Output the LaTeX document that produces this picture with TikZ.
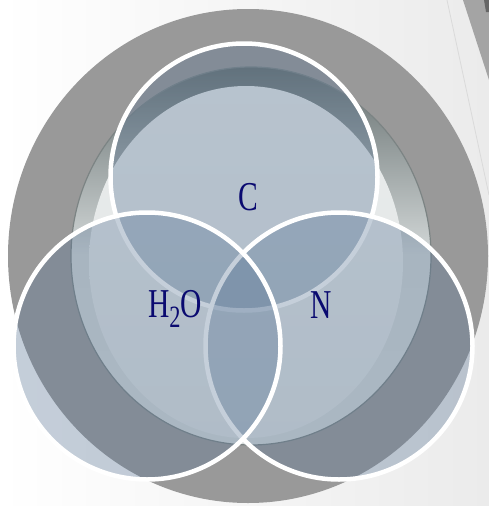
\documentclass[tikz,border=0pt]{standalone}
\usepackage{fontspec}
\setmainfont{Liberation Serif}
\definecolor{bgR}{HTML}{EBEBEB}
\definecolor{ring}{HTML}{999999}
\definecolor{cornergray}{HTML}{A4A4A4}
\definecolor{decoline}{HTML}{DADADA}
\definecolor{rimtop}{HTML}{667070}
\definecolor{rimmid}{HTML}{D3D8D8}
\definecolor{rimbot}{HTML}{D6DBDB}
\definecolor{rimedge}{HTML}{7C8484}
\definecolor{disctop}{HTML}{EAEDED}
\definecolor{discbot}{HTML}{DFE3E3}
\definecolor{vfill}{HTML}{5A7696}
\definecolor{txt}{HTML}{0A0A70}
\tikzset{
  venn/.style={circle, inner sep=0pt, outer sep=0pt, minimum size=267pt,
    fill=vfill, fill opacity=0.35, draw=white, line width=4.5pt},
  lbl/.style={text=txt, anchor=base, inner sep=0pt,
    font=\fontsize{41pt}{41pt}\selectfont}
}
\begin{document}
\begin{tikzpicture}[x=1pt,y=-1pt]
\useasboundingbox (0,0) rectangle (489,506);
\shade[left color=white, right color=bgR] (0,0) rectangle (489,506);
% top-right corner decoration
\fill[cornergray] (463,0) -- (489,0) -- (489,80) -- cycle;
\fill[black!60] (484,0) -- (489,0) -- (489,12) -- (486,12) -- cycle;
\draw[decoline, line width=0.8pt] (447,0) -- (489,195);
% gray ring
\fill[ring] (248,256) ellipse [x radius=240, y radius=247];
% bowl rim
\shade[top color=rimtop, bottom color=rimbot, middle color=rimmid]
  (251,256) ellipse [x radius=180, y radius=189];
\draw[rimedge, line width=1.2pt] (251,256) ellipse [x radius=180, y radius=189];
% bowl inner disc
\shade[top color=disctop, bottom color=discbot]
  (246,262) ellipse [x radius=157, y radius=176];
% three circles
\node (cC) [venn] at (244,177) {};
\node (cN) [venn] at (339,346) {};
\node (cH) [venn] at (147,346) {};
% labels
\node (tC) [lbl] at (248.5,210) {\scalebox{0.72}[1]{C}};
\node (tH) [lbl] at (175,317) {\scalebox{0.72}[1]{H\raisebox{-10pt}{\fontsize{31pt}{31pt}\selectfont 2}O}};
\node (tN) [lbl] at (321.5,318) {\scalebox{0.72}[1]{N}};
\end{tikzpicture}
\end{document}
